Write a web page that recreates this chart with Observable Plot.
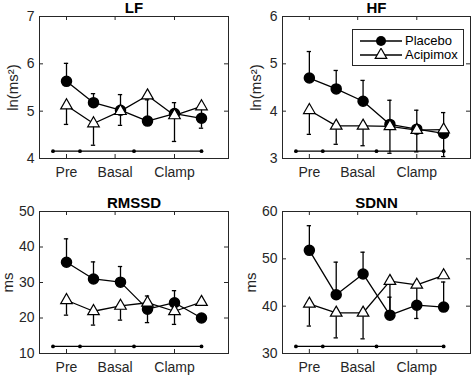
<!DOCTYPE html>
<html><head><meta charset="utf-8">
<script src="https://cdn.jsdelivr.net/npm/d3@7"></script>
<script src="https://cdn.jsdelivr.net/npm/@observablehq/plot@0.6"></script>
<style>
body{margin:0;background:#fff;}
#chart{position:relative;width:474px;height:375px;font-family:"Liberation Sans",Arial,sans-serif;overflow:hidden;background:#fff;}
.panel{position:absolute;}
#legend{position:absolute;left:352px;top:29px;width:112px;height:37px;border:1px solid #262626;background:#fff;box-sizing:border-box;}
</style></head><body><div id="chart"></div>
<script>
// ---- data ----
const xPos = [1, 2, 3, 4, 5, 6];
const xTickValues = [1, 2.8, 5];
const xTickLabels = ["Pre", "Basal", "Clamp"];
const periodMarks = [0.5, 1.5, 3.5, 6];
const titles = ["LF", "HF", "RMSSD", "SDNN"];
const yLabels = ["ln(ms²)", "ln(ms²)", "ms", "ms"];
const yDomains = [[4, 7], [3, 6], [10, 50], [30, 60]];
const yTicks = [[4, 5, 6, 7], [3, 4, 5, 6], [10, 20, 30, 40, 50], [30, 40, 50, 60]];
const periodLevel = [4.155, 3.155, 12.0, 31.5];
const seriesNames = ["Placebo", "Acipimox"];

const lfPlacebo    = [5.63, 5.18, 5.02, 4.79, 4.95, 4.85];
const lfPlaceboHi  = [6.01, 5.37, 5.35, 5.24, 5.18, 4.85];
const lfAcipimox   = [5.12, 4.74, 5.00, 5.33, 4.91, 5.10];
const lfAcipimoxLo = [4.72, 4.28, 4.70, 5.33, 4.36, 4.64];

const hfPlacebo    = [4.70, 4.47, 4.21, 3.72, 3.62, 3.53];
const hfPlaceboHi  = [5.26, 4.86, 4.65, 4.23, 4.02, 3.97];
const hfAcipimox   = [4.02, 3.69, 3.69, 3.68, 3.60, 3.61];
const hfAcipimoxLo = [3.51, 3.30, 3.27, 3.11, 3.14, 3.04];

const rmPlacebo    = [35.7, 31.0, 30.1, 22.5, 24.3, 20.0];
const rmPlaceboHi  = [42.3, 35.8, 34.5, 26.2, 27.7, 20.0];
const rmAcipimox   = [25.0, 21.9, 23.4, 24.3, 21.9, 24.5];
const rmAcipimoxLo = [20.8, 18.0, 19.4, 18.7, 18.2, 24.5];

const sdPlacebo    = [51.8, 42.4, 46.8, 38.1, 40.2, 39.8];
const sdPlaceboHi  = [57.0, 49.3, 51.4, 41.9, 40.2, 45.1];
const sdAcipimox   = [40.5, 38.6, 38.6, 45.3, 44.5, 46.5];
const sdAcipimoxLo = [35.8, 33.3, 33.1, 39.0, 37.4, 46.5];

// ---- layout ----
const boxes = [
  {left: 0,   top: 0,   w: 237, h: 187, ml: 39, mr: 9, mt: 16, mb: 29, lab: 26},
  {left: 237, top: 0,   w: 237, h: 187, ml: 45, mr: 4, mt: 16, mb: 29, lab: 26},
  {left: 0,   top: 187, w: 237, h: 188, ml: 39, mr: 9, mt: 24, mb: 22, lab: 31},
  {left: 237, top: 187, w: 237, h: 188, ml: 45, mr: 4, mt: 24, mb: 22, lab: 31}
];
const series = [
  [lfPlacebo, lfPlaceboHi, lfAcipimox, lfAcipimoxLo],
  [hfPlacebo, hfPlaceboHi, hfAcipimox, hfAcipimoxLo],
  [rmPlacebo, rmPlaceboHi, rmAcipimox, rmAcipimoxLo],
  [sdPlacebo, sdPlaceboHi, sdAcipimox, sdAcipimoxLo]
];
const axisColor = "#262626";
const font = "'Liberation Sans', Arial, sans-serif";
const capHalf = 0.08;
const rCircle = 5, rTriangle = 4.3;

function panel(i) {
  const b = boxes[i];
  const [pl, plHi, ac, acLo] = series[i];
  const rows = xPos.map((x, j) => ({x, pl: pl[j], plHi: plHi[j], ac: ac[j], acLo: acLo[j]}));
  const W = b.w - b.ml - b.mr, H = b.h - b.mt - b.mb, tk = 4;
  const lvl = periodLevel[i];
  return Plot.plot({
    width: b.w, height: b.h,
    marginLeft: b.ml, marginRight: b.mr, marginTop: b.mt, marginBottom: b.mb,
    x: {domain: [0, 7]},
    y: {domain: yDomains[i]},
    style: {fontFamily: font, fontSize: "14px", color: axisColor, background: "transparent", overflow: "visible"},
    marks: [
      Plot.axisX(xTickValues, {tickSize: 0, tickPadding: 9, fontSize: 14, fill: axisColor,
        tickFormat: d => xTickLabels[xTickValues.indexOf(d)], label: null}),
      Plot.axisY(yTicks[i], {tickSize: 0, tickPadding: 5, fontSize: 14, fill: axisColor, label: null}),
      Plot.tickX(xTickValues, {x: d => d, insetTop: H - tk, stroke: axisColor}),
      Plot.tickX(xTickValues, {x: d => d, insetBottom: H - tk, stroke: axisColor}),
      Plot.tickY(yTicks[i], {y: d => d, insetRight: W - tk, stroke: axisColor}),
      Plot.tickY(yTicks[i], {y: d => d, insetLeft: W - tk, stroke: axisColor}),
      Plot.frame({stroke: axisColor}),
      Plot.text([yLabels[i]], {frameAnchor: "left", dx: -b.lab, rotate: -90, textAnchor: "middle",
        lineAnchor: "middle", fontSize: 15, fill: axisColor}),
      Plot.text([titles[i]], {frameAnchor: "top", dy: -4, lineAnchor: "bottom", fontWeight: "bold",
        fontSize: 15, fill: "black"}),
      Plot.lineY(periodMarks, {x: d => d, y: () => lvl, stroke: "black", strokeWidth: 1.2}),
      Plot.dot(periodMarks, {x: d => d, y: () => lvl, r: 1.9, fill: "black"}),
      Plot.line(rows, {x: "x", y: "pl", stroke: "black", strokeWidth: 1.3}),
      Plot.ruleX(rows, {x: "x", y1: "pl", y2: "plHi", stroke: "black", strokeWidth: 1.3}),
      Plot.ruleY(rows, {y: "plHi", x1: d => d.x - capHalf, x2: d => d.x + capHalf, stroke: "black", strokeWidth: 1.3}),
      Plot.line(rows, {x: "x", y: "ac", stroke: "black", strokeWidth: 1.3}),
      Plot.ruleX(rows, {x: "x", y1: "ac", y2: "acLo", stroke: "black", strokeWidth: 1.3}),
      Plot.ruleY(rows, {y: "acLo", x1: d => d.x - capHalf, x2: d => d.x + capHalf, stroke: "black", strokeWidth: 1.3}),
      Plot.dot(rows, {x: "x", y: "pl", r: rCircle, fill: "black", stroke: "black"}),
      Plot.dot(rows, {x: "x", y: "ac", r: rTriangle, symbol: "triangle", fill: "white", stroke: "black", strokeWidth: 1.2})
    ]
  });
}

const chart = document.getElementById("chart");
boxes.forEach((b, i) => {
  const svg = panel(i);
  svg.classList.add("panel");
  svg.style.left = b.left + "px";
  svg.style.top = b.top + "px";
  chart.appendChild(svg);
});

// legend (inside HF panel)
const legend = d3.select(chart).append("div").attr("id", "legend");
seriesNames.forEach((name, k) => {
  const row = legend.append("div").style("position", "absolute").style("left", "0px")
    .style("top", (k === 0 ? 4 : 18) + "px").style("height", "14px").style("width", "110px");
  const s = row.append("svg").attr("width", 52).attr("height", 14).style("position", "absolute").style("left", "0px").style("top", "0px");
  s.append("line").attr("x1", 7).attr("x2", 49).attr("y1", 7).attr("y2", 7).attr("stroke", "black").attr("stroke-width", 1.3);
  if (k === 0) s.append("circle").attr("cx", 28).attr("cy", 7).attr("r", rCircle).attr("fill", "black");
  else s.append("path").attr("transform", "translate(28,7)").attr("d", d3.symbol(d3.symbolTriangle, rTriangle * rTriangle * Math.PI)())
    .attr("fill", "white").attr("stroke", "black").attr("stroke-width", 1.2);
  row.append("span").text(name).style("position", "absolute").style("left", "52px").style("top", "0px")
    .style("font-size", "13px").style("line-height", "14px").style("color", "black");
});
</script></body></html>
